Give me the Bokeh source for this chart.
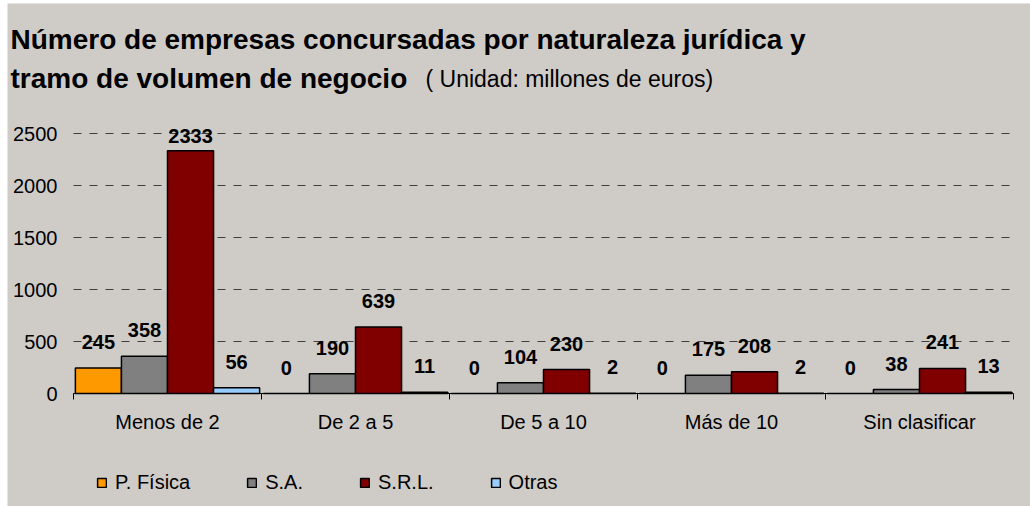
import numpy as np
from bokeh.plotting import figure
from bokeh.models import Range1d, FixedTicker, Label, ColumnDataSource
from bokeh.core.properties import value
from bokeh.embed import file_html
from bokeh.resources import INLINE

categories = ["Menos de 2", "De 2 a 5", "De 5 a 10", "Más de 10", "Sin clasificar"]
series_names = ["P. Física", "S.A.", "S.R.L.", "Otras"]
p_fisica = [245, 0, 0, 0, 0]
s_a = [358, 190, 104, 175, 38]
s_r_l = [2333, 639, 230, 208, 241]
otras = [56, 11, 2, 2, 13]
y_ticks = [0, 500, 1000, 1500, 2000, 2500]

series_values = [p_fisica, s_a, s_r_l, otras]
colors = ["#ff9900", "#808080", "#800000", "#99ccff"]

BG = "#cfccc8"
FONT = "Liberation Sans"

# layout (pixels in the page picture)
W, H = 1030, 506
FL, FT = 7, 3            # frame left / top
PL, PR, PB = 73, 1013, 393   # plot area left, right, baseline (y=0)
PX_PER_Y = 260 / 2500
ncat = len(categories)
px_per_x = (PR - PL) / ncat


def dx(px):
    return (px - PL) / px_per_x


def dy(py):
    return (PB - py) / PX_PER_Y


p = figure(width=W, height=H,
           x_range=Range1d(dx(FL), dx(W)), y_range=Range1d(dy(H), dy(FT)),
           output_backend="svg", toolbar_location=None,
           min_border_left=FL, min_border_top=FT, min_border_right=0, min_border_bottom=0)
p.background_fill_color = BG
p.border_fill_color = "white"
p.outline_line_color = None

bar_w = 0.245
centers = np.arange(ncat) + 0.5
for i, (name, vals, col) in enumerate(zip(series_names, series_values, colors)):
    xs = centers + (i - 1.5) * bar_w
    v = np.array(vals, dtype=float)
    src = ColumnDataSource(dict(x=xs, top=v, label=[str(int(t)) for t in v],
                                ly=np.minimum(v, 2230)))
    p.vbar(x="x", top="top", bottom=0, width=bar_w, source=src, fill_color=col,
           line_color="black", line_width=1.5, legend_label=name)
    p.text(x="x", y="ly", text="label", source=src, text_align="center",
           text_baseline="middle", y_offset=-26, text_font_size="20px",
           text_font_style="bold", text_color="black", text_font=value(FONT))

# y axis
yax = p.yaxis[0]
yax.fixed_location = 0
yax.ticker = FixedTicker(ticks=y_ticks)
yax.axis_line_color = None
yax.major_tick_line_color = None
yax.minor_tick_line_color = None
yax.major_tick_out = 0
yax.major_tick_in = 0
yax.major_label_standoff = 16
yax.major_label_text_font = FONT
yax.major_label_text_font_size = "20px"
yax.major_label_text_color = "black"

# x axis
xax = p.xaxis[0]
xax.fixed_location = 0
xax.bounds = (0, ncat)
xax.ticker = FixedTicker(ticks=list(centers), minor_ticks=list(range(ncat + 1)))
xax.major_label_overrides = {float(c): cat for c, cat in zip(centers, categories)}
xax.axis_line_color = "black"
xax.axis_line_width = 1
xax.major_tick_line_color = None
xax.major_tick_out = 0
xax.major_tick_in = 0
xax.minor_tick_line_color = "black"
xax.minor_tick_out = 6
xax.minor_tick_in = 0
xax.major_label_standoff = 11
xax.major_label_text_font = FONT
xax.major_label_text_font_size = "20px"
xax.major_label_text_color = "black"

# grid
p.xgrid.grid_line_color = None
yg = p.ygrid[0]
if "cross_bounds" in yg.properties():
    yg.cross_bounds = (0, ncat)
    yg.grid_line_color = "#404040"
    yg.grid_line_dash = "8 8"
    yg.grid_line_width = 1
else:
    yg.grid_line_color = None
    p.segment(x0=[0] * len(y_ticks), x1=[ncat] * len(y_ticks), y0=y_ticks, y1=y_ticks,
              line_color="#404040", line_dash="8 8", line_width=1, level="underlay")

# legend
lg = p.legend[0]
lg.orientation = "horizontal"
lg.location = (96 - FL, 12)
lg.background_fill_alpha = 0
lg.border_line_color = None
lg.padding = 0
lg.margin = 0
lg.spacing = 56
lg.glyph_width = 11
lg.glyph_height = 11
lg.label_standoff = 8
lg.label_text_font = FONT
lg.label_text_font_size = "20px"
lg.label_text_color = "black"

# title
p.add_layout(Label(x=dx(10), y=dy(39),
                   text="Número de empresas concursadas por naturaleza jurídica y",
                   text_font=FONT, text_font_size="28px", text_font_style="bold",
                   text_baseline="alphabetic", text_color="black"))
p.add_layout(Label(x=dx(10), y=dy(78),
                   text="tramo de volumen de negocio",
                   text_font=FONT, text_font_size="28px", text_font_style="bold",
                   text_baseline="alphabetic", text_color="black"))
p.add_layout(Label(x=dx(425), y=dy(78),
                   text="( Unidad: millones de euros)",
                   text_font=FONT, text_font_size="23px",
                   text_baseline="alphabetic", text_color="black"))

open("out.html", "w").write(file_html(p, INLINE))
